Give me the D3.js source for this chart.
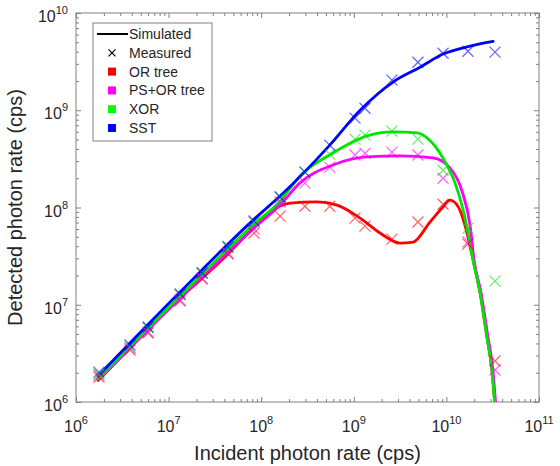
<!DOCTYPE html>
<html><head><meta charset="utf-8">
<script src="https://cdn.jsdelivr.net/npm/d3@7"></script>
<style>body{margin:0;background:#fff}svg{display:block;font-family:"Liberation Sans",Arial,sans-serif}</style>
</head><body><svg id="c" width="560" height="466"></svg>
<script>
// Measured data (shared incident rates)
const measX = [1.77e6, 3.83e6, 6.0e6, 1.33e7, 2.3e7, 4.38e7, 8.36e7, 1.6e8, 2.97e8, 5.5e8, 1.03e9, 1.32e9, 2.58e9, 4.93e9, 9.2e9, 1.71e10, 3.35e10];
const measOR  = [1.81e6, 3.42e6, 5.12e6, 1.09e7, 1.84e7, 3.32e7, 5.46e7, 8.16e7, 1.03e8, 1.03e8, 7.78e7, 6.44e7, 4.73e7, 7.08e7, 1.08e8, 4.2e7, 2.64e6];
const measPS  = [1.89e6, 3.59e6, 5.24e6, 1.12e7, 1.88e7, 3.4e7, 6.0e7, 1.14e8, 1.78e8, 2.6e8, 3.46e8, 3.62e8, 3.71e8, 3.46e8, 2.0e8, 4.41e7, 2.13e6];
const measXOR = [1.94e6, 3.67e6, 5.76e6, 1.26e7, 2.12e7, 4.0e7, 7.08e7, 1.28e8, 2.31e8, 3.54e8, 5.05e8, 5.55e8, 6.1e8, 5.05e8, 2.42e8, 6.14e7, 1.75e7];
const measSST = [2.03e6, 3.85e6, 5.9e6, 1.29e7, 2.12e7, 3.92e7, 7.25e7, 1.28e8, 2.31e8, 4.38e8, 8.3e8, 1.05e9, 2.04e9, 3.12e9, 3.86e9, 4.05e9, 3.96e9];

// Simulated curves
const simORx  = [1.73e6, 1.33e7, 4.6e7, 7.03e7, 1.16e8, 2.05e8, 4.01e8, 6.59e8, 1.17e9, 1.92e9, 3.15e9, 4.36e9, 6.65e9, 9.18e9, 1.09e10, 1.33e10, 1.67e10, 1.94e10, 2.31e10, 2.74e10, 3.1e10, 3.35e10];
const simORy  = [1.66e6, 1.17e7, 3.48e7, 5.33e7, 8.55e7, 1.11e8, 1.14e8, 1.06e8, 7.78e7, 5.46e7, 4.31e7, 4.41e7, 7.08e7, 1.01e8, 1.19e8, 1.03e8, 5.46e7, 2.88e7, 1.32e7, 4.66e6, 2.13e6, 0.9e6];
const simPSx  = [1.73e6, 1.33e7, 8.36e7, 1.6e8, 2.62e8, 5.96e8, 1.39e9, 3.15e9, 7.16e9, 1.09e10, 1.47e10, 1.8e10, 1.99e10, 2.37e10, 2.81e10, 3.18e10, 3.42e10];
const simPSy  = [1.68e6, 1.17e7, 6.14e7, 1.06e8, 1.79e8, 2.74e8, 3.31e8, 3.39e8, 3.24e8, 2.56e8, 1.49e8, 6.59e7, 2.88e7, 1.32e7, 4.66e6, 2.13e6, 0.9e6];
const simXORx = [1.73e6, 1.33e7, 8.36e7, 1.6e8, 2.62e8, 5.96e8, 1.39e9, 2.65e9, 4.82e9, 6.65e9, 8.11e9, 1.01e10, 1.24e10, 1.67e10, 1.94e10, 2.31e10, 2.74e10, 3.1e10, 3.35e10];
const simXORy = [1.72e6, 1.22e7, 6.75e7, 1.16e8, 2.11e8, 3.64e8, 5.45e8, 5.98e8, 5.85e8, 4.88e8, 3.89e8, 2.73e8, 1.78e8, 6.3e7, 2.88e7, 1.32e7, 4.66e6, 2.13e6, 0.9e6];
const simSSTx = [1.73e6, 1.33e7, 8.4e7, 1.6e8, 5.5e8, 1.17e9, 2.65e9, 5.2e9, 9.2e9, 1.8e10, 3.2e10];
const simSSTy = [1.85e6, 1.35e7, 7.6e7, 1.31e8, 4.38e8, 1.0e9, 1.95e9, 2.77e9, 3.78e9, 4.56e9, 5.1e9];

const seriesNames = ["OR tree", "PS+OR tree", "XOR", "SST"];
const seriesColors = ["#ff0000", "#ff00ff", "#00e600", "#0000ff"];
const legendColors = ["#ff0000", "#ff00ff", "#00ff00", "#0000ff"];
const xMajor = [1e6, 1e7, 1e8, 1e9, 1e10, 1e11];
const yMajor = [1e6, 1e7, 1e8, 1e9, 1e10];
const xTitle = "Incident photon rate (cps)";
const yTitle = "Detected photon rate (cps)";

const svg = d3.select("#c");
const L = 76, R = 539, T = 13, B = 402;
const x = d3.scaleLog().domain([1e6, 1e11]).range([L, R]);
const y = d3.scaleLog().domain([1e6, 1e10]).range([B, T]);
const axisCol = "#808080", textCol = "#262626";

function minors(maj) {
  const m = [];
  for (let i = 0; i < maj.length - 1; i++) for (let k = 2; k <= 9; k++) m.push(maj[i] * k);
  return m;
}

svg.append("defs").append("clipPath").attr("id", "clip")
  .append("rect").attr("x", L).attr("y", T).attr("width", R - L).attr("height", B - T);

// ticks on all 4 sides, pointing inward
function tickAxis(gen, scale, vals, size, tr) {
  const g = svg.append("g").attr("transform", tr)
    .call(gen(scale).tickValues(vals).tickSize(size).tickFormat(""));
  g.select(".domain").remove();
  g.selectAll("line").attr("stroke", axisCol);
}
tickAxis(d3.axisBottom, x, xMajor, -5, `translate(0,${B})`);
tickAxis(d3.axisBottom, x, minors(xMajor), -3, `translate(0,${B})`);
tickAxis(d3.axisTop, x, xMajor, -5, `translate(0,${T})`);
tickAxis(d3.axisTop, x, minors(xMajor), -3, `translate(0,${T})`);
tickAxis(d3.axisLeft, y, yMajor, -5, `translate(${L},0)`);
tickAxis(d3.axisLeft, y, minors(yMajor), -3, `translate(${L},0)`);
tickAxis(d3.axisRight, y, yMajor, -5, `translate(${R},0)`);
tickAxis(d3.axisRight, y, minors(yMajor), -3, `translate(${R},0)`);

svg.append("rect").attr("x", L).attr("y", T).attr("width", R - L).attr("height", B - T)
  .attr("fill", "none").attr("stroke", axisCol).attr("stroke-width", 1);

// tick labels
xMajor.forEach(v => {
  const t = svg.append("text").attr("x", x(v)).attr("y", 432).attr("text-anchor", "middle").attr("fill", textCol);
  t.append("tspan").attr("font-size", 16).text("10");
  t.append("tspan").attr("font-size", 11).attr("dy", -8).text(Math.round(Math.log10(v)));
});
yMajor.forEach(v => {
  const t = svg.append("text").attr("x", 68).attr("y", y(v) + 9).attr("text-anchor", "end").attr("fill", textCol);
  t.append("tspan").attr("font-size", 16).text("10");
  t.append("tspan").attr("font-size", 11).attr("dy", -8).text(Math.round(Math.log10(v)));
});
svg.append("text").attr("x", (L + R) / 2).attr("y", 460).attr("text-anchor", "middle")
  .attr("font-size", 20).attr("fill", textCol).text(xTitle);
svg.append("text").attr("transform", `translate(22,${(T + B) / 2}) rotate(-90)`).attr("text-anchor", "middle")
  .attr("font-size", 20).attr("fill", textCol).text(yTitle);

// simulated lines
const plot = svg.append("g").attr("clip-path", "url(#clip)");
const line = d3.line().x(d => x(d[0])).y(d => y(d[1])).curve(d3.curveMonotoneX);
const sims = [[simORx, simORy], [simPSx, simPSy], [simXORx, simXORy], [simSSTx, simSSTy]];
sims.forEach((s, i) => {
  plot.append("path").datum(d3.zip(s[0], s[1])).attr("d", line)
    .attr("fill", "none").attr("stroke", seriesColors[i]).attr("stroke-width", 2.8)
    .attr("stroke-linejoin", "round").attr("stroke-linecap", "round");
});

// measured crosses
const meas = [measOR, measPS, measXOR, measSST];
const cs = 5.5;
meas.forEach((m, i) => {
  m.forEach((v, j) => {
    const cx = x(measX[j]), cy = y(v);
    plot.append("path").attr("d", `M${cx - cs},${cy - cs}L${cx + cs},${cy + cs}M${cx - cs},${cy + cs}L${cx + cs},${cy - cs}`)
      .attr("stroke", seriesColors[i]).attr("stroke-opacity", 0.6).attr("stroke-width", 1.3).attr("fill", "none");
  });
});

// legend
const lg = svg.append("g");
lg.append("rect").attr("x", 93).attr("y", 23).attr("width", 119).attr("height", 118)
  .attr("fill", "#fff").attr("stroke", axisCol).attr("stroke-width", 1);
const rowY = i => 34 + i * 18.8;
lg.append("line").attr("x1", 97).attr("x2", 128).attr("y1", rowY(0)).attr("y2", rowY(0)).attr("stroke", "#000").attr("stroke-width", 2);
const mx = 112, ms = 3.5;
lg.append("path").attr("d", `M${mx - ms},${rowY(1) - ms}L${mx + ms},${rowY(1) + ms}M${mx - ms},${rowY(1) + ms}L${mx + ms},${rowY(1) - ms}`)
  .attr("stroke", "#000").attr("stroke-width", 1.2);
legendColors.forEach((c, i) => {
  lg.append("rect").attr("x", mx - 4).attr("y", rowY(i + 2) - 4).attr("width", 8).attr("height", 8).attr("fill", c);
});
["Simulated", "Measured"].concat(seriesNames).forEach((n, i) => {
  lg.append("text").attr("x", 129).attr("y", rowY(i) + 5).attr("font-size", 14).attr("fill", textCol).text(n);
});
</script></body></html>
